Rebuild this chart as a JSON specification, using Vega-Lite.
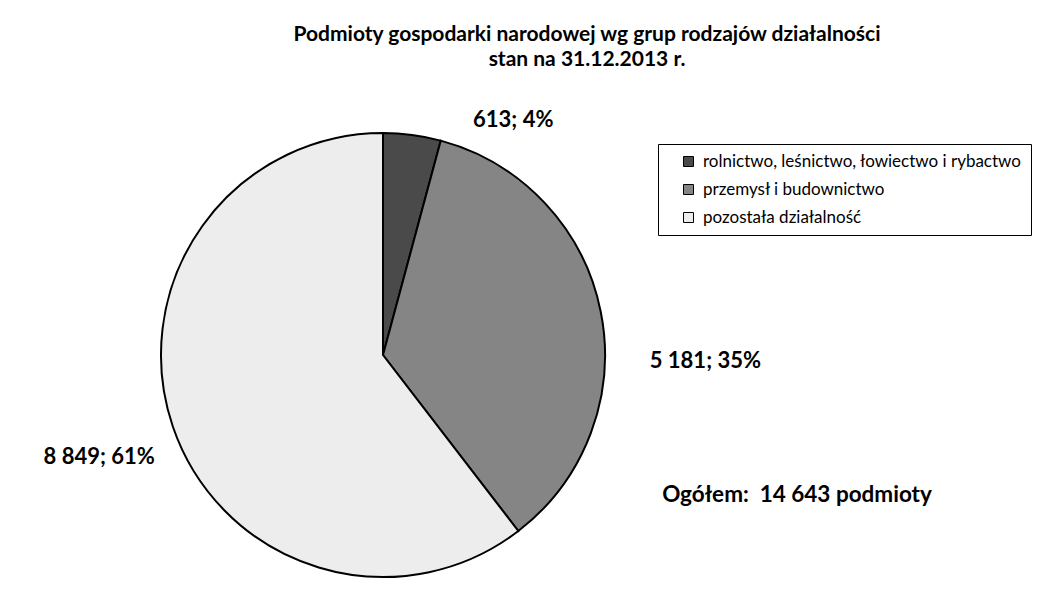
{
  "$schema": "https://vega.github.io/schema/vega-lite/v6.json",
  "width": 444,
  "height": 444,
  "autosize": {"type": "none"},
  "padding": {"left": 161, "top": 133, "right": 444, "bottom": 19},
  "background": "white",
  "config": {"view": {"stroke": null}, "font": "Lato"},
  "title": {
    "text": ["Podmioty gospodarki narodowej wg grup rodzajów działalności", "stan na 31.12.2013 r."],
    "font": "Lato",
    "fontSize": 21,
    "fontWeight": "bold",
    "color": "black",
    "anchor": "middle",
    "frame": "group",
    "dx": 204,
    "offset": 39,
    "lineHeight": 25
  },
  "data": {
    "values": [
      {"category": "rolnictwo, leśnictwo, łowiectwo i rybactwo", "count": 613, "label": "613; 4%"},
      {"category": "przemysł i budownictwo", "count": 5181, "label": "5 181; 35%"},
      {"category": "pozostała działalność", "count": 8849, "label": "8 849; 61%"}
    ]
  },
  "layer": [
    {
      "mark": {"type": "arc", "stroke": "black", "strokeWidth": 2},
      "encoding": {
        "theta": {"field": "count", "type": "quantitative", "stack": true},
        "order": {"field": "count", "sort": "ascending"},
        "color": {
          "field": "category",
          "type": "nominal",
          "sort": null,
          "scale": {"range": ["#4a4a4a", "#858585", "#ededed"]},
          "legend": {
            "orient": "none",
            "legendX": 497,
            "legendY": 11,
            "title": null,
            "strokeColor": "black",
            "fillColor": "white",
            "padding": 9,
            "symbolType": "square",
            "symbolSize": 100,
            "symbolStrokeColor": "black",
            "symbolStrokeWidth": 1,
            "symbolOffset": 13,
            "labelFont": "Lato",
            "labelFontSize": 17,
            "labelColor": "black",
            "labelLimit": 500,
            "labelOffset": 6,
            "rowPadding": 10
          }
        }
      }
    },
    {
      "mark": {"type": "text", "radius": 237, "align": "left", "baseline": "middle", "dx": 59, "dy": 0, "fontSize": 22, "fontWeight": "bold", "font": "Lato", "color": "black"},
      "encoding": {
        "theta": {"field": "count", "type": "quantitative", "stack": true},
        "order": {"field": "count", "sort": "ascending"},
        "text": {"condition": {"test": "datum.count === 613", "field": "label"}, "value": ""}
      }
    },
    {
      "mark": {"type": "text", "radius": 222, "align": "left", "baseline": "middle", "dx": 49, "dy": 49, "fontSize": 22, "fontWeight": "bold", "font": "Lato", "color": "black"},
      "encoding": {
        "theta": {"field": "count", "type": "quantitative", "stack": true},
        "order": {"field": "count", "sort": "ascending"},
        "text": {"condition": {"test": "datum.count === 5181", "field": "label"}, "value": ""}
      }
    },
    {
      "mark": {"type": "text", "radius": 222, "align": "right", "baseline": "middle", "dx": -18, "dy": 31, "fontSize": 22, "fontWeight": "bold", "font": "Lato", "color": "black"},
      "encoding": {
        "theta": {"field": "count", "type": "quantitative", "stack": true},
        "order": {"field": "count", "sort": "ascending"},
        "text": {"condition": {"test": "datum.count === 8849", "field": "label"}, "value": ""}
      }
    },
    {
      "data": {"values": [{"t": "Ogółem:\u00a0 14 643 podmioty"}]},
      "mark": {"type": "text", "align": "center", "baseline": "middle", "dx": 414, "dy": 140, "fontSize": 22.5, "fontWeight": "bold", "font": "Lato", "color": "black"},
      "encoding": {"text": {"field": "t", "type": "nominal"}}
    }
  ]
}
